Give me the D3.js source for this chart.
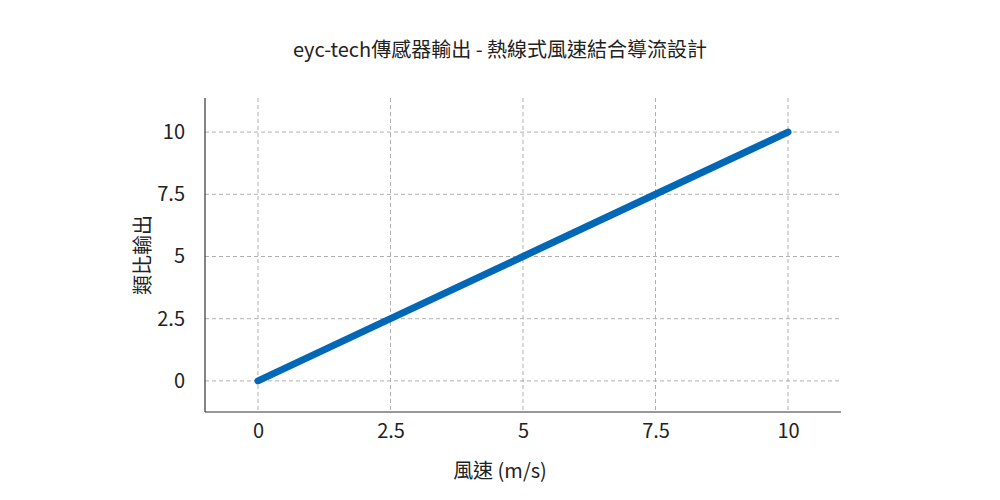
<!DOCTYPE html>
<html><head><meta charset="utf-8">
<script src="https://cdn.jsdelivr.net/npm/d3@7"></script>
<style>body{margin:0;background:#fff}svg{font-family:"Noto Sans CJK TC","Noto Sans",sans-serif}</style>
</head><body><svg id="c" width="1000" height="500"></svg>
<script>
const windSpeed = [0, 2.5, 5, 7.5, 10];
const ratioOutput = [0, 2.5, 5, 7.5, 10];
const xTicks = [0, 2.5, 5, 7.5, 10];
const yTicks = [0, 2.5, 5, 7.5, 10];

const svg = d3.select('#c');
const x = d3.scaleLinear().domain([-1, 11]).range([205, 841]);
const y = d3.scaleLinear().domain([-1.25, 11.37]).range([412, 98]);

// grid
const grid = svg.append('g').attr('stroke', '#b0b0b0').attr('stroke-dasharray', '4,3').attr('stroke-width', 1);
grid.selectAll('.gx').data(xTicks).join('line')
  .attr('x1', d => x(d)).attr('x2', d => x(d)).attr('y1', 98).attr('y2', 412);
grid.selectAll('.gy').data(yTicks).join('line')
  .attr('y1', d => y(d)).attr('y2', d => y(d)).attr('x1', 205).attr('x2', 841);

// axes
const fmt = d => String(d);
const xa = svg.append('g').attr('transform', 'translate(0,412)')
  .call(d3.axisBottom(x).tickValues(xTicks).tickFormat(fmt).tickSize(0).tickPadding(12));
const ya = svg.append('g').attr('transform', 'translate(205,0)')
  .call(d3.axisLeft(y).tickValues(yTicks).tickFormat(fmt).tickSize(0).tickPadding(20));
[xa, ya].forEach(a => {
  a.select('.domain').attr('stroke', '#333').attr('stroke-width', 1.2);
  a.selectAll('text').attr('font-size', 20).attr('fill', '#222')
    .attr('font-family', '"Noto Sans CJK TC","Noto Sans",sans-serif');
});
xa.select('.domain').attr('d', 'M205,0H841');
ya.select('.domain').attr('d', 'M0,98V412');

// line
svg.append('path')
  .datum(windSpeed.map((v, i) => [v, ratioOutput[i]]))
  .attr('fill', 'none').attr('stroke', '#0068b7').attr('stroke-width', 7)
  .attr('stroke-linecap', 'round').attr('stroke-linejoin', 'round')
  .attr('d', d3.line().x(d => x(d[0])).y(d => y(d[1])));

// text
svg.append('text').attr('x', 500).attr('y', 57).attr('text-anchor', 'middle')
  .attr('font-size', 20).attr('fill', '#222').text('eyc-tech傳感器輸出 - 熱線式風速結合導流設計');
svg.append('text').attr('x', 500).attr('y', 478).attr('text-anchor', 'middle')
  .attr('font-size', 20).attr('fill', '#222').text('風速 (m/s)');
svg.append('text').attr('transform', 'translate(150,255) rotate(-90)').attr('text-anchor', 'middle')
  .attr('font-size', 20).attr('fill', '#222').text('類比輸出');
</script></body></html>
